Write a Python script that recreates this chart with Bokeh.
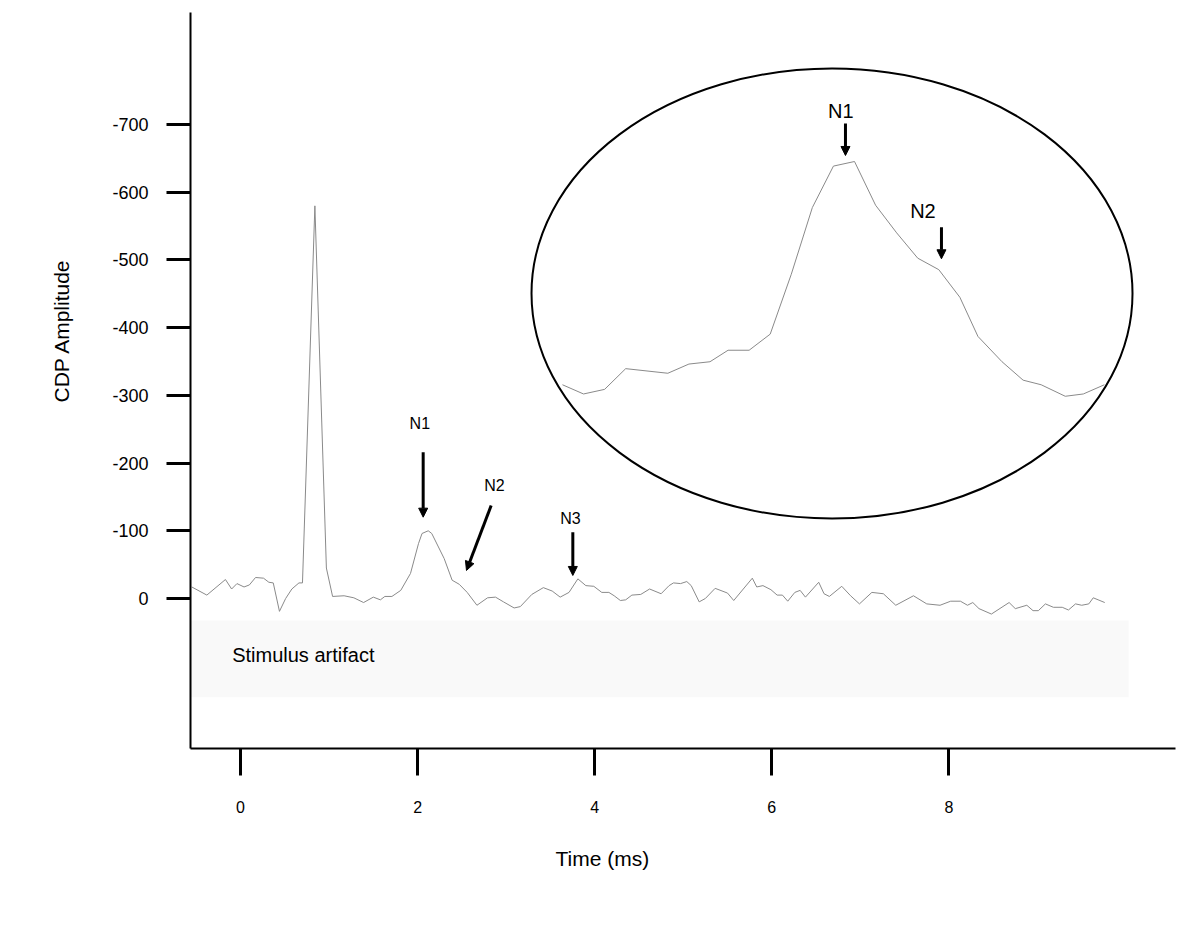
from bokeh.plotting import figure
from bokeh.models import (Range1d, FixedTicker, Label, Arrow, NormalHead,
                          BoxAnnotation, Title)
from bokeh.embed import file_html
from bokeh.resources import INLINE

FONT = "Liberation Sans"

# ---- main CDP trace (time in ms, amplitude) ----
time_ms = [-0.55, -0.38, -0.17, -0.10, -0.04, 0.04, 0.10, 0.17, 0.26, 0.32, 0.37,
           0.44, 0.51, 0.58, 0.66, 0.70, 0.84, 0.97, 1.04, 1.17, 1.28, 1.39, 1.50,
           1.58, 1.63, 1.71, 1.81, 1.92, 2.01, 2.05, 2.12, 2.16, 2.30, 2.39, 2.47,
           2.56, 2.67, 2.79, 2.88, 2.97, 3.09, 3.16, 3.29, 3.42, 3.52, 3.61, 3.71,
           3.81, 3.90, 3.99, 4.08, 4.16, 4.22, 4.29, 4.35, 4.42, 4.52, 4.62, 4.75,
           4.84, 4.89, 4.97, 5.04, 5.09, 5.18, 5.25, 5.36, 5.50, 5.57, 5.78, 5.83,
           5.90, 5.99, 6.06, 6.12, 6.18, 6.26, 6.32, 6.38, 6.53, 6.59, 6.65, 6.79,
           6.89, 6.99, 7.13, 7.26, 7.40, 7.60, 7.75, 7.90, 8.02, 8.13, 8.21, 8.27,
           8.34, 8.48, 8.68, 8.75, 8.88, 8.95, 9.01, 9.09, 9.18, 9.28, 9.35, 9.43,
           9.50, 9.58, 9.63, 9.76]
amplitude = [-17, -5, -28, -14, -22, -17, -20, -31, -30, -24, -23,
             19, 0, -14, -23, -23, -580, -45, -3, -4, -1, 6, -2,
             2, -3, -3, -12, -37, -81, -96, -100, -96, -59, -27, -21,
             -9, 10, -1, -2, 5, 14, 12, -6, -16, -11, -2, -9,
             -29, -19, -18, -9, -9, -4, 3, 2, -5, -6, -14, -7,
             -19, -23, -22, -25, -19, 5, 0, -15, -8, 3, -30, -17,
             -19, -13, -5, -5, 4, -9, -12, -2, -24, -7, -3, -18,
             -4, 8, -9, -7, 10, -4, 8, 10, 4, 4, 10, 6,
             15, 23, 6, 15, 10, 18, 18, 8, 13, 13, 17, 8,
             10, 8, -1, 6]

# ---- magnified N1/N2 region shown in the inset ----
inset_time = [1.18, 1.25, 1.32, 1.39, 1.53, 1.60, 1.67, 1.73, 1.80, 1.87, 1.94,
              2.01, 2.08, 2.15, 2.22, 2.29, 2.36, 2.43, 2.50, 2.56, 2.64, 2.71,
              2.77, 2.85, 2.91, 2.98]
inset_amp = [-3, 1, -1, -10, -8, -12, -13, -18, -18, -25, -51,
             -80, -98, -100, -81, -69, -58, -53, -41, -24, -13, -5,
             -3, 2, 1, -3]

x_ticks = [0, 2, 4, 6, 8]
y_ticks = [0, -100, -200, -300, -400, -500, -600, -700]
y_tick_labels = ["0", "-100", "-200", "-300", "-400", "-500", "-600", "-700"]

# inset placement (magnification of the trace inside the ellipse)
MAG = 3.4
INSET_X0 = -0.376
INSET_Y0 = -305.5

p = figure(width=1184, height=911,
           x_range=Range1d(-0.5646, 10.559), y_range=Range1d(221.6, -865.6),
           output_backend="svg", toolbar_location=None,
           min_border_left=190, min_border_right=9,
           min_border_top=12, min_border_bottom=163)
p.outline_line_color = None
p.xgrid.visible = False
p.ygrid.visible = False
p.background_fill_color = "white"
p.border_fill_color = "white"

# stimulus artifact band
p.add_layout(BoxAnnotation(left=-0.5646, right=10.03, top=32.5, bottom=146,
                           fill_color="#f9f9f9", fill_alpha=1.0, line_color=None,
                           level="underlay"))

# axes
for ax in (p.xaxis[0], p.yaxis[0]):
    ax.axis_line_width = 2
    ax.axis_line_color = "black"
    ax.major_tick_line_width = 3
    ax.major_tick_line_color = "black"
    ax.minor_tick_line_color = None
    ax.major_tick_in = 0
    ax.major_label_text_font = FONT
    ax.major_label_text_color = "black"

p.xaxis.ticker = FixedTicker(ticks=x_ticks)
p.xaxis.major_tick_out = 27
p.xaxis.major_label_standoff = 25
p.xaxis.major_label_text_font_size = "16px"

p.yaxis.ticker = FixedTicker(ticks=y_ticks)
p.yaxis.major_label_overrides = dict(zip(y_ticks, y_tick_labels))
p.yaxis.major_tick_out = 24
p.yaxis.major_label_standoff = 18
p.yaxis.major_label_text_font_size = "18px"

# axis titles (placed off-centre, as in the original)
p.add_layout(Title(text="Time (ms)", align="left", offset=365, standoff=58,
                   text_font=FONT, text_font_size="21px",
                   text_font_style="normal", text_color="black"), "below")
p.add_layout(Title(text="CDP Amplitude", align="left", offset=346, standoff=74,
                   text_font=FONT, text_font_size="21px",
                   text_font_style="normal", text_color="black"), "left")

# main trace
p.line(time_ms, amplitude, line_color="#8a8a8a", line_width=1)

# inset
p.ellipse(x=[6.680], y=[-450.5], width=[6.787], height=[664.7],
          fill_color=None, line_color="black", line_width=2)
ix = [INSET_X0 + MAG * t for t in inset_time]
iy = [INSET_Y0 + MAG * a for a in inset_amp]
p.line(ix, iy, line_color="#8a8a8a", line_width=1)


def label(x, y, text, size):
    p.add_layout(Label(x=x, y=y, text=text, text_font=FONT,
                       text_font_size=size, text_align="center",
                       text_baseline="middle", text_color="black"))


def arrow(x0, y0, x1, y1, lw=3, size=9):
    p.add_layout(Arrow(end=NormalHead(size=size, fill_color="black",
                                      line_color="black", line_width=1),
                       x_start=x0, y_start=y0, x_end=x1, y_end=y1,
                       line_width=lw, line_color="black"))


# main annotations
label(2.025, -258.9, "N1", "16px")
arrow(2.063, -216.1, 2.063, -120.1)
label(2.868, -166.9, "N2", "16px")
arrow(2.831, -137.4, 2.552, -41.4)
label(3.727, -117.7, "N3", "16px")
arrow(3.753, -97.9, 3.753, -34.0)

# inset annotations
label(6.779, -720.8, "N1", "20px")
arrow(6.832, -701.6, 6.832, -654.4)
label(7.707, -573.1, "N2", "20px")
arrow(7.916, -548.4, 7.916, -501.8)

p.add_layout(Label(x=-0.094, y=84, text="Stimulus artifact", text_font=FONT,
                   text_font_size="20px", text_align="left",
                   text_baseline="middle", text_color="black"))

open("out.html", "w").write(file_html(p, INLINE))
